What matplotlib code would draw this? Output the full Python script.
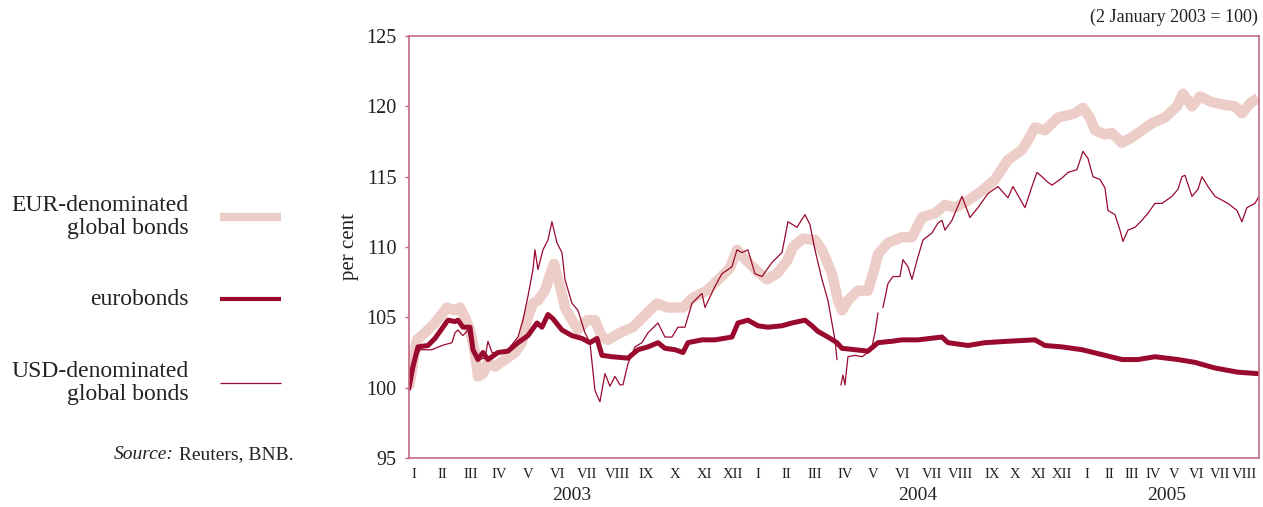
import numpy as np
import matplotlib
matplotlib.use("Agg")
import matplotlib.pyplot as plt
from matplotlib.lines import Line2D
from matplotlib.transforms import blended_transform_factory

plt.rcParams["font.family"] = "Liberation Serif"
nan = np.nan

# time position (trading-day scale), index 2 January 2003 = 100
eur_t = [0, 8, 16, 26, 38, 46, 51, 56, 61, 66,
         69, 74, 79, 86, 96, 106, 113, 118, 124, 129,
         136, 141, 145, 151, 156, 163, 169, 178, 186, 193,
         199, 211, 224, 238, 248, 258, 274, 284, 298, 311,
         321, 328, 338, 348, 358, 368, 378, 384, 394, 406,
         413, 423, 429, 433, 439, 449, 459, 466, 469, 479,
         493, 503, 513, 526, 536, 546, 559, 573, 586, 599,
         613, 619, 626, 636, 649, 666, 674, 681, 686, 696,
         703, 713, 723, 733, 743, 756, 768, 774, 783, 791,
         803, 816, 826, 833, 841, 849]
eur_v = [100.0, 103.4, 103.9, 104.6, 105.7, 105.5, 105.7, 105.0, 104.1, 102.5,
         100.8, 101.0, 101.8, 101.5, 102.0, 102.5, 103.2, 104.8, 106.0, 106.2,
         106.9, 108.0, 108.8, 107.2, 105.7, 104.8, 104.1, 104.8, 104.8, 103.6,
         103.4, 103.9, 104.3, 105.3, 106.0, 105.7, 105.7, 106.4, 106.9, 107.8,
         108.5, 109.8, 109.0, 108.3, 107.7, 108.1, 109.0, 110.0, 110.6, 110.5,
         109.8, 108.1, 106.2, 105.5, 106.2, 106.9, 106.9, 108.6, 109.5, 110.3,
         110.7, 110.7, 112.1, 112.4, 113.0, 112.8, 113.3, 114.0, 114.8, 116.2,
         116.9, 117.6, 118.5, 118.3, 119.2, 119.5, 119.9, 119.2, 118.3, 118.0,
         118.1, 117.4, 117.8, 118.3, 118.8, 119.2, 120.0, 120.9, 120.0, 120.7,
         120.3, 120.1, 120.0, 119.5, 120.2, 120.6]

euro_t = [0, 4, 9, 19, 26, 33, 39, 46, 49, 54,
          61, 64, 69, 74, 79, 89, 99, 109, 119, 128,
          133, 139, 144, 153, 163, 173, 181, 188, 193, 203,
          219, 229, 239, 249, 256, 266, 274, 279, 293, 306,
          323, 329, 339, 349, 359, 373, 383, 396, 403, 409,
          419, 428, 433, 446, 459, 469, 483, 493, 509, 533,
          539, 559, 576, 599, 626, 636, 653, 673, 696, 713,
          729, 746, 769, 786, 806, 829, 849]
euro_v = [100.0, 101.5, 102.9, 103.0, 103.5, 104.2, 104.8, 104.7, 104.8, 104.3,
          104.3, 102.7, 102.0, 102.5, 102.0, 102.5, 102.6, 103.2, 103.7, 104.6,
          104.3, 105.2, 104.9, 104.1, 103.7, 103.5, 103.2, 103.5, 102.3, 102.2,
          102.1, 102.7, 102.9, 103.2, 102.8, 102.7, 102.5, 103.2, 103.4, 103.4,
          103.6, 104.6, 104.8, 104.4, 104.3, 104.4, 104.6, 104.8, 104.4, 104.0,
          103.6, 103.2, 102.8, 102.7, 102.6, 103.2, 103.3, 103.4, 103.4, 103.6,
          103.2, 103.0, 103.2, 103.3, 103.4, 103.0, 102.9, 102.7, 102.3, 102.0,
          102.0, 102.2, 102.0, 101.8, 101.4, 101.1, 101.0]

usd_t = [0, 6, 11, 23, 33, 43, 46, 49, 54, 59,
         64, 69, 76, 79, 83, 89, 99, 109, 114, 119,
         124, 126, 129, 134, 139, 143, 148, 153, 156, 163,
         169, 176, 181, 186, 191, 196, 201, 206, 211, 214,
         219, 226, 233, 239, 249, 256, 263, 269, 276, 283,
         293, 296, 306, 313, 323, 328, 333, 339, 346, 353,
         363, 373, 379, 388, 396, 401, 406, 413, 419, 426,
         428, 430, 432, 434, 436, 439, 446, 453, 459, 463,
         466, 469, 471, 474, 479, 484, 491, 494, 499, 503,
         509, 514, 523, 529, 533, 536, 543, 553, 561, 569,
         579, 589, 599, 604, 616, 623, 628, 633, 639, 643,
         653, 659, 668, 674, 679, 684, 691, 696, 699, 706,
         711, 714, 719, 726, 733, 739, 746, 753, 763, 769,
         773, 776, 783, 789, 793, 799, 806, 819, 828, 833,
         838, 846, 850]
usd_v = [99.8, 102.0, 102.7, 102.7, 103.0, 103.2, 103.9, 104.1, 103.7, 104.1,
         102.5, 102.0, 102.1, 103.3, 102.5, 102.5, 102.7, 103.6, 104.8, 106.5,
         108.4, 109.8, 108.4, 109.8, 110.5, 111.8, 110.3, 109.6, 107.7, 106.0,
         105.5, 103.9, 103.2, 99.8, 99.0, 101.0, 100.1, 100.8, 100.2, 100.2,
         101.7, 102.9, 103.2, 103.9, 104.6, 103.6, 103.6, 104.3, 104.3, 106.0,
         106.7, 105.7, 107.2, 108.1, 108.6, 109.8, 109.6, 109.8, 108.1, 107.9,
         108.9, 109.6, 111.8, 111.4, 112.3, 111.6, 109.8, 107.7, 106.2, 103.4,
         102.0, nan, 100.2, 100.9, 100.2, 102.2, 102.3, 102.2, 102.5, 102.9,
         103.9, 105.3, nan, 105.7, 107.4, 107.9, 107.9, 109.1, 108.6, 107.7,
         109.3, 110.5, 111.0, 111.7, 111.9, 111.2, 111.9, 113.6, 112.1, 112.8,
         113.8, 114.3, 113.5, 114.3, 112.8, 114.3, 115.3, 115.0, 114.6, 114.4,
         114.9, 115.3, 115.5, 116.8, 116.3, 115.0, 114.8, 114.2, 112.6, 112.3,
         111.2, 110.4, 111.2, 111.4, 111.9, 112.4, 113.1, 113.1, 113.6, 114.1,
         115.0, 115.1, 113.6, 114.1, 115.0, 114.3, 113.6, 113.1, 112.6, 111.8,
         112.8, 113.1, 113.6]

month_pos = [5, 33, 62, 90, 119, 149, 178, 208, 237, 266, 295, 324,
             349, 377, 406, 436, 464, 494, 523, 551, 583, 606, 629, 653,
             678, 700, 723, 744, 765, 788, 811, 835]
month_lab = ["I", "II", "III", "IV", "V", "VI", "VII", "VIII", "IX", "X", "XI", "XII",
             "I", "II", "III", "IV", "V", "VI", "VII", "VIII", "IX", "X", "XI", "XII",
             "I", "II", "III", "IV", "V", "VI", "VII", "VIII"]
year_pos = [163, 509, 758]
year_lab = ["2003", "2004", "2005"]

pink = "#EDCDC8"
maroon = "#990A2E"
frame = "#C46A80"
ink = "#222222"

fig = plt.figure(figsize=(12.63, 5.07), dpi=100)
ax = fig.add_axes([0.3238, 0.0966, 0.673, 0.8324])

ax.plot(eur_t, eur_v, color=pink, lw=7.5, solid_capstyle="butt", solid_joinstyle="round")
ax.plot(usd_t, usd_v, color=maroon, lw=0.9)
ax.plot(euro_t, euro_v, color=maroon, lw=3.6, solid_joinstyle="round")

ax.set_xlim(0, 850)
ax.set_ylim(95, 125)
ax.set_yticks(range(95, 126, 5))
ax.set_xticks(month_pos)
ax.set_xticklabels(month_lab, fontsize=10.5, color=ink)
ax.tick_params(axis="x", length=0, pad=7)
ax.tick_params(axis="y", length=3, width=1, color=frame, pad=6, labelsize=14.5,
               labelcolor=ink)
for s in ax.spines.values():
    s.set_color(frame)
    s.set_linewidth(1.2)

tr = blended_transform_factory(ax.transData, ax.transAxes)
for p, lab in zip(year_pos, year_lab):
    ax.text(p, -0.088, lab, transform=tr, ha="center", va="center", fontsize=14,
            color=ink)

fig.text(0.2765, 0.513, "per cent", rotation=90, ha="center", va="center",
         fontsize=15, color=ink)
fig.text(0.996, 0.966, "(2 January 2003 = 100)", ha="right", va="center",
         fontsize=13, color=ink)

# legend drawn by hand on the left
leg = [("EUR-denominated\nglobal bonds", pink, 6.0, 0.572),
       ("eurobonds", maroon, 3.0, 0.41),
       ("USD-denominated\nglobal bonds", maroon, 0.9, 0.2446)]
for text, col, lw, y in leg:
    fig.text(0.1496, y, text, ha="right", va="center", fontsize=17,
             linespacing=1.15, color=ink)
    fig.add_artist(Line2D([0.1742, 0.2225], [y, y], color=col, lw=lw,
                          solid_capstyle="butt", transform=fig.transFigure))

# source line: italic "Source:" sits just left of the plain part
src = fig.text(0.232, 0.103, " Reuters, BNB.", ha="right", va="center",
               fontsize=14, color=ink)
bb = src.get_window_extent(renderer=fig.canvas.get_renderer())
fig.text(bb.x0 / fig.bbox.width, 0.103, "Source:", ha="right", va="center",
         fontsize=14, style="italic", color=ink)

plt.savefig("out.png", dpi=100)
